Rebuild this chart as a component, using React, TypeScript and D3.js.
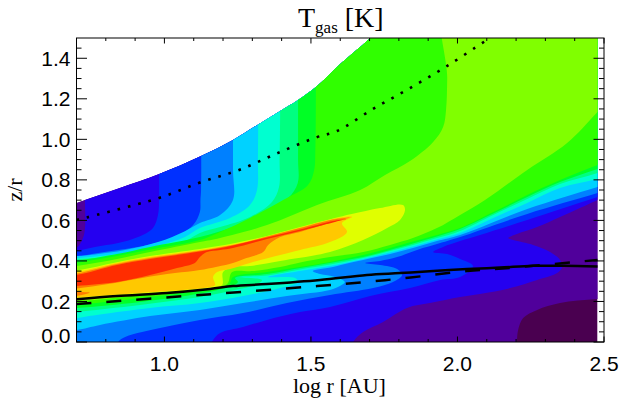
import React from 'react';
import * as d3 from 'd3';

type Pt = [number, number];

// disk surface, [log r, z/r]; runs past the top of the frame and gets clipped there
const diskTop: Pt[] = [[.7,.686],[.729,.701],[.848,.76],[.982,.829],[1.125,.918],[1.234,.997],[1.323,1.076],[1.395,1.14],[1.456,1.194],[1.517,1.258],[1.599,1.37],[1.702,1.5],[1.77,1.6],[2.478,1.6]];

// filled contours, coolest to hottest: each ring is the outline of T >= level
const levelColors = ['#4a0050','#50009b','#2500f0','#0030ff','#0080ff','#00d2ff','#00ffd0','#00ff80','#00ff25','#30ff00','#80ff00','#e0ff00','#ffc800','#ff7d00','#ff2d00'];

const ring1: Pt[] = [[2.203,-.1],[2.203,0],[2.207,.059],[2.224,.118],[2.272,.158],[2.35,.192],[2.478,.212],[2.65,.22],[2.65,1.8],[.55,1.8],[.55,-.1]];
const ring2: Pt[] = [[.729,1.8],[.729,1.2],[.729,.7],[.729,.563],[.722,.513],[.7,.464],[.62,.43],[.55,-.1],[1.62,-.1],[1.644,0],[1.678,.049],[1.746,.099],[1.828,.168],[1.906,.192],[2.009,.222],[2.077,.237],[2.18,.266],[2.272,.306],[2.34,.34],[2.357,.37],[2.35,.405],[2.316,.444],[2.258,.479],[2.19,.503],[2.173,.513],[2.203,.533],[2.272,.567],[2.35,.617],[2.418,.661],[2.478,.701],[2.65,.8],[2.65,1.8]];
const ring3: Pt[] = [[.982,1.8],[.982,1.2],[.982,.75],[.982,.7],[.978,.627],[.961,.563],[.91,.518],[.842,.488],[.763,.469],[.7,.449],[.6,.43],[.55,-.1],[1.14,-.1],[1.162,0],[1.19,.044],[1.268,.074],[1.35,.109],[1.463,.148],[1.565,.173],[1.702,.227],[1.838,.266],[1.941,.306],[2.009,.321],[2.053,.375],[2.009,.41],[1.965,.434],[1.917,.444],[1.951,.469],[2.009,.498],[2.077,.528],[2.238,.602],[2.478,.715],[2.65,.79],[2.65,1.8]];
const ring4: Pt[] = [[1.125,1.8],[1.125,1.2],[1.125,.75],[1.123,.7],[1.121,.641],[1.098,.577],[1.036,.518],[.944,.479],[.842,.454],[.753,.434],[.7,.419],[.6,.4],[.55,-.1],[.82,-.1],[.842,0],[.866,.025],[.924,.049],[1.002,.074],[1.121,.109],[1.268,.143],[1.418,.192],[1.565,.232],[1.712,.266],[1.78,.296],[1.811,.331],[1.794,.36],[1.736,.38],[1.685,.39],[1.736,.4],[1.794,.419],[1.862,.454],[1.941,.488],[2.009,.518],[2.238,.632],[2.478,.735],[2.65,.81],[2.65,1.8]];
const ring5: Pt[] = [[1.234,1.8],[1.234,1.2],[1.234,.85],[1.234,.701],[1.19,.627],[1.121,.587],[1.07,.547],[.978,.493],[.866,.454],[.763,.432],[.7,.424],[.6,.41],[.6,.05],[.7,.059],[.78,.084],[.951,.128],[1.121,.158],[1.268,.192],[1.418,.227],[1.565,.257],[1.599,.276],[1.616,.296],[1.582,.321],[1.531,.335],[1.506,.35],[1.575,.37],[1.616,.385],[1.678,.405],[1.77,.434],[1.848,.464],[1.93,.498],[2.009,.528],[2.238,.656],[2.478,.765],[2.65,.84],[2.65,1.8]];
const ring6: Pt[] = [[1.32,1.8],[1.32,1.1],[1.319,.9],[1.316,.75],[1.292,.676],[1.224,.612],[1.121,.562],[1.07,.518],[.978,.474],[.866,.439],[.763,.422],[.7,.414],[.6,.4],[.6,.09],[.7,.118],[.78,.136],[.951,.168],[1.121,.192],[1.268,.227],[1.395,.266],[1.456,.296],[1.446,.316],[1.354,.321],[1.463,.35],[1.565,.375],[1.678,.41],[1.77,.442],[1.848,.471],[1.93,.506],[2.009,.538],[2.122,.612],[2.238,.686],[2.35,.76],[2.478,.804],[2.65,.88],[2.65,1.8]];
const ring7: Pt[] = [[1.395,1.8],[1.395,1.15],[1.393,.9],[1.391,.765],[1.367,.691],[1.292,.617],[1.19,.567],[1.121,.538],[1.07,.498],[.978,.459],[.866,.432],[.763,.414],[.7,.407],[.6,.39],[.6,.13],[.7,.148],[.917,.183],[1.121,.222],[1.241,.257],[1.309,.281],[1.333,.306],[1.258,.321],[1.35,.328],[1.463,.358],[1.565,.382],[1.678,.414],[1.77,.449],[1.848,.479],[1.93,.513],[2.009,.548],[2.122,.627],[2.238,.706],[2.35,.78],[2.478,.834],[2.65,.92],[2.65,1.8]];
const ring8: Pt[] = [[1.456,1.8],[1.456,1.2],[1.456,.9],[1.455,.785],[1.422,.71],[1.337,.636],[1.234,.567],[1.121,.518],[.951,.469],[.838,.434],[.7,.4],[.6,.38],[.6,.17],[.7,.168],[.917,.197],[1.121,.239],[1.207,.266],[1.251,.296],[1.241,.316],[1.35,.335],[1.463,.365],[1.565,.39],[1.678,.419],[1.77,.454],[1.848,.486],[1.93,.521],[2.009,.558],[2.122,.634],[2.238,.715],[2.35,.789],[2.478,.854],[2.65,.94],[2.65,1.8]];
const ring9: Pt[] = [[1.517,1.8],[1.517,1.3],[1.515,.95],[1.511,.849],[1.49,.775],[1.405,.701],[1.292,.612],[1.19,.543],[1.121,.503],[.951,.456],[.838,.424],[.7,.39],[.6,.37],[.6,.2],[.7,.187],[.917,.217],[1.121,.252],[1.207,.271],[1.224,.291],[1.234,.321],[1.35,.345],[1.463,.37],[1.565,.395],[1.678,.429],[1.77,.464],[1.848,.496],[1.93,.528],[2.009,.562],[2.122,.641],[2.238,.725],[2.35,.799],[2.478,.873],[2.65,.97],[2.65,1.8]];
const ring10: Pt[] = [[1.965,1.8],[1.965,1.3],[1.961,1.145],[1.951,1.061],[1.917,.987],[1.838,.893],[1.753,.824],[1.668,.75],[1.521,.676],[1.35,.577],[1.19,.513],[1.121,.493],[.951,.444],[.838,.41],[.7,.375],[.6,.36],[.6,.23],[.7,.205],[.917,.232],[1.121,.262],[1.197,.271],[1.217,.291],[1.231,.345],[1.302,.35],[1.395,.37],[1.463,.392],[1.565,.419],[1.678,.444],[1.77,.479],[1.848,.513],[1.93,.562],[2.009,.627],[2.094,.701],[2.238,.849],[2.374,.982],[2.478,1.135],[2.65,1.4],[2.65,1.8]];
const ring11: Pt[] = [[.7,.353],[.838,.394],[.951,.424],[1.121,.459],[1.234,.486],[1.35,.523],[1.463,.567],[1.575,.609],[1.639,.631],[1.736,.661],[1.814,.676],[1.821,.651],[1.804,.602],[1.76,.562],[1.678,.503],[1.565,.444],[1.395,.4],[1.292,.375],[1.234,.37],[1.2,.345],[1.197,.281],[1.156,.266],[.917,.237],[.7,.212],[.6,.2],[.6,.34]];
const ring12: Pt[] = [[.7,.345],[.838,.39],[.951,.419],[1.121,.454],[1.234,.481],[1.35,.521],[1.463,.565],[1.575,.607],[1.64,.617],[1.606,.587],[1.623,.543],[1.565,.493],[1.463,.454],[1.395,.429],[1.292,.39],[1.224,.36],[1.18,.345],[1.166,.321],[1.173,.281],[1.156,.271],[.917,.242],[.7,.22],[.6,.21],[.6,.33]];
const ring13: Pt[] = [[.7,.338],[.838,.385],[.951,.414],[1.121,.45],[1.234,.479],[1.35,.52],[1.463,.562],[1.575,.604],[1.633,.614],[1.575,.592],[1.463,.543],[1.395,.518],[1.354,.479],[1.337,.444],[1.28,.414],[1.234,.39],[1.121,.355],[1.036,.34],[.924,.316],[.808,.286],[.7,.264],[.6,.25],[.6,.325]];
const ring13b: Pt[] = [[.7,.247],[.746,.244],[.7,.227],[.65,.22],[.65,.25]];
const ring14: Pt[] = [[.7,.331],[.838,.38],[.951,.409],[1.121,.446],[1.234,.476],[1.35,.516],[1.463,.555],[1.575,.597],[1.62,.607],[1.575,.59],[1.463,.548],[1.35,.508],[1.234,.464],[1.19,.454],[1.145,.444],[1.121,.419],[1.104,.39],[1.043,.365],[.951,.331],[.838,.296],[.7,.276],[.6,.26],[.6,.32]];

// overlaid curves
const solidCurve: Pt[] = [[.7,.211],[.838,.227],[1.009,.242],[1.156,.262],[1.234,.276],[1.35,.286],[1.531,.306],[1.691,.331],[1.804,.34],[1.917,.35],[2.033,.36],[2.145,.367],[2.258,.376],[2.36,.376],[2.478,.372]];
const dashedCurve: Pt[] = [[.7,.187],[1.121,.232],[1.521,.276],[1.794,.311],[2.033,.35],[2.19,.367],[2.478,.405]];
const dottedCurve: Pt[] = [[.7,.602],[.982,.711],[1.125,.789],[1.255,.849],[1.388,.933],[1.521,1.011],[1.589,1.041],[1.712,1.15],[1.838,1.253],[1.965,1.362],[2.084,1.475],[2.111,1.5]];

const xMajor = [1, 1.5, 2, 2.5];
const xMinor = [.8, .9, 1.1, 1.2, 1.3, 1.4, 1.6, 1.7, 1.8, 1.9, 2.1, 2.2, 2.3, 2.4];
const yMajor = [0, .2, .4, .6, .8, 1, 1.2, 1.4];
const yMinor = [.05, .1, .15, .25, .3, .35, .45, .5, .55, .65, .7, .75, .85, .9, .95, 1.05, 1.1, 1.15, 1.25, 1.3, 1.35, 1.45];

const rings: [number, Pt[]][] = [[1, ring1], [2, ring2], [3, ring3], [4, ring4], [5, ring5], [6, ring6], [7, ring7], [8, ring8], [9, ring9], [10, ring10], [11, ring11], [12, ring12], [13, ring13], [13, ring13b], [14, ring14]];

const x = d3.scaleLinear().domain([.7, 2.5]).range([76.5, 604]);
const y = d3.scaleLinear().domain([0, 1.5]).range([342, 38]);

const sans = '"Liberation Sans", Arial, sans-serif';
const serif = '"Liberation Serif", "Times New Roman", serif';

export default function App() {
  const ringPath = d3.line<Pt>().x(d => x(d[0])).y(d => y(d[1])).curve(d3.curveCatmullRomClosed.alpha(0.5));
  const curvePath = d3.line<Pt>().x(d => x(d[0])).y(d => y(d[1])).curve(d3.curveCatmullRom.alpha(0.5));
  const disk = d3.area<Pt>().x(d => x(d[0])).y0(y(0)).y1(d => y(d[1])).curve(d3.curveMonotoneX)(diskTop) as string;

  return (
    <svg width={621} height={400} style={{ position: 'absolute', left: 0, top: 0 }}>
      <defs>
        <clipPath id="disk"><path d={disk} /></clipPath>
        <clipPath id="plot"><rect x={x(.7)} y={y(1.5)} width={x(2.5) - x(.7)} height={y(0) - y(1.5)} /></clipPath>
      </defs>

      <g clipPath="url(#plot)">
        <g clipPath="url(#disk)">
          <path d={disk} fill={levelColors[0]} />
          {rings.map(([level, ring], i) => (
            <path key={i} d={ringPath(ring) as string} fill={levelColors[level]} />
          ))}
        </g>
      </g>

      <g clipPath="url(#plot)" fill="none" stroke="#000">
        <path d={curvePath(solidCurve) as string} strokeWidth={2.5} />
        <path d={curvePath(dashedCurve) as string} strokeWidth={2.5} strokeDasharray="15 15" />
        <path d={curvePath(dottedCurve) as string} strokeWidth={2.6} strokeDasharray="2.6 8" />
      </g>

      <g stroke="#000" strokeWidth={1}>
        <rect x={x(.7)} y={y(1.5)} width={x(2.5) - x(.7)} height={y(0) - y(1.5)} fill="none" />
        {[...xMajor.map(v => [v, 5.5]), ...xMinor.map(v => [v, 3])].map(([v, len]) => (
          <g key={v}>
            <line x1={x(v)} x2={x(v)} y1={y(0)} y2={y(0) - len} />
            <line x1={x(v)} x2={x(v)} y1={y(1.5)} y2={y(1.5) + len} />
          </g>
        ))}
        {[...yMajor.map(v => [v, 10.5]), ...yMinor.map(v => [v, 5])].map(([v, len]) => (
          <g key={v}>
            <line x1={x(.7)} x2={x(.7) + len} y1={y(v)} y2={y(v)} />
            <line x1={x(2.5)} x2={x(2.5) - len} y1={y(v)} y2={y(v)} />
          </g>
        ))}
      </g>

      <g fontFamily={sans} fontSize={21} fill="#000">
        {xMajor.map(v => (
          <text key={v} x={x(v)} y={370.5} textAnchor="middle">{v.toFixed(1)}</text>
        ))}
        {yMajor.map(v => (
          <text key={v} x={70.5} y={v === 0 ? 342.5 : y(v) + 7.5} textAnchor="end">{v.toFixed(1)}</text>
        ))}
      </g>

      <text x={298} y={27} fontFamily={serif} fontSize={28} fill="#000">
        T<tspan dy={6} fontSize={17}>gas</tspan><tspan dy={-6}> [K]</tspan>
      </text>
      <text x={293} y={393} fontFamily={serif} fontSize={22} fill="#000">log r [AU]</text>
      <text transform="translate(21.5,190) rotate(-90)" textAnchor="middle" fontFamily={serif} fontSize={22} fill="#000">z/r</text>
    </svg>
  );
}
